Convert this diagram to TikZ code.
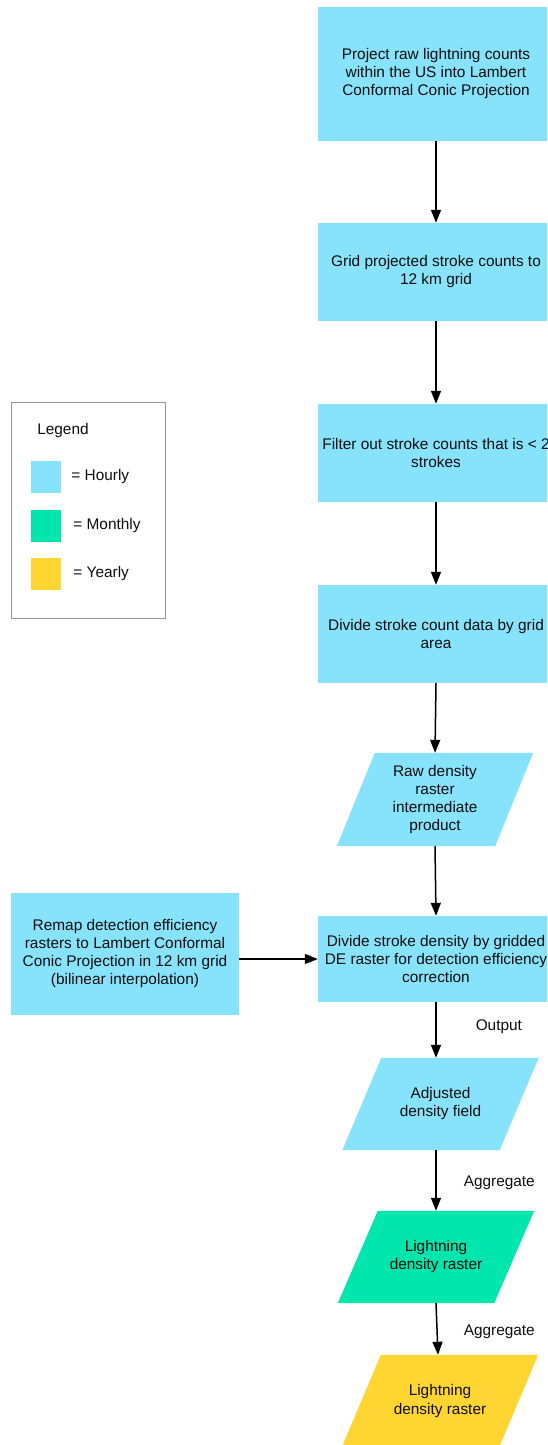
\documentclass[tikz,border=0pt]{standalone}
\usepackage{fontspec}
\setmainfont{Liberation Sans}
\usetikzlibrary{arrows.meta,backgrounds,calc}
\definecolor{cblue}{RGB}{135,227,252}
\definecolor{cgreen}{RGB}{0,230,173}
\definecolor{cyellow}{RGB}{255,213,50}
\definecolor{cgray}{RGB}{150,150,150}
\tikzset{
  txt/.style={font=\fontsize{15.4}{18}\selectfont, align=center, text=black!95},
  box/.style={txt, fill=cblue, inner sep=0pt, minimum width=236pt},
  para/.style={txt, inner sep=0pt, minimum width=196pt, minimum height=92pt},
  flow/.style={line width=1.5pt, -{Triangle[length=13pt,width=10pt]}},
  lbl/.style={txt, anchor=west, inner sep=0pt},
  swatch/.style={inner sep=0pt, minimum width=30pt, minimum height=32pt}
}
\newcommand{\skewfill}[3]{% node, colour, skew
  \fill[#2] ($(#1.north west)+(#3,0)$) -- (#1.north east) -- ($(#1.south east)-(#3,0)$) -- (#1.south west) -- cycle;}
\begin{document}
\begin{tikzpicture}[x=1pt,y=-1pt]
\useasboundingbox (0,0) rectangle (547,1445);
\clip (0,0) rectangle (547,1445);
% main column
\node[box, minimum height=134pt] (b1) at (436,74) {Project raw lightning counts\\within the US into Lambert\\Conformal Conic Projection};
\node[box, minimum height=98pt] (b2) at (436,272) {Grid projected stroke counts to\\12 km grid};
\node[box, minimum height=98pt] (b3) at (436,453) {Filter out stroke counts that is < 2\\strokes};
\node[box, minimum height=98pt] (b4) at (436,634) {Divide stroke count data by grid\\area};
\node[para, minimum height=93pt] (p1) at (435,799.5) {Raw density\\raster\\intermediate\\product};
\node[box, minimum height=86pt] (b5) at (436,959) {Divide stroke density by gridded\\DE raster for detection efficiency\\correction};
\node[box, minimum width=228pt, minimum height=122pt] (lb) at (125,954) {Remap detection efficiency\\rasters to Lambert Conformal\\Conic Projection in 12 km grid\\(bilinear interpolation)};
\node[para] (p2) at (440.5,1104) {Adjusted\\density field};
\node[para] (p3) at (436,1257) {Lightning\\density raster};
\node[para] (p4) at (440,1401) {Lightning\\density raster};
\begin{scope}[on background layer]
\skewfill{p1}{cblue}{38}
\skewfill{p2}{cblue}{39}
\skewfill{p3}{cgreen}{40}
\skewfill{p4}{cyellow}{39}
\end{scope}
% connectors
\draw[flow] (b1) -- (b2);
\draw[flow] (b2) -- (b3);
\draw[flow] (b3) -- (b4);
\draw[flow] (b4.south) -- (p1.north);
\draw[flow] (p1.south) -- (b5.north);
\draw[flow] (lb.east |- b5.west) -- (b5.west);
\draw[flow] (b5.south) -- node[lbl, xshift=39pt, yshift=3pt] {Output} (b5.south |- p2.north);
\draw[flow] (p2.south -| p3.north) -- node[lbl, xshift=27pt, yshift=-2.5pt] {Aggregate} (p3.north);
\draw[flow] (p3.south) -- node[lbl, xshift=26pt, yshift=-3pt] {Aggregate} ($(p4.north)+(-2,0)$);
% legend
\node[draw=cgray, line width=1pt, inner sep=0pt, minimum width=154pt, minimum height=216pt] (leg) at (88.5,510) {};
\node[txt] (legt) at (63,431) {Legend};
\node[swatch, fill=cblue] (s1) at (46,477) {};
\node[swatch, fill=cgreen] (s2) at (46,526) {};
\node[swatch, fill=cyellow] (s3) at (46,574) {};
\node[lbl, xshift=10pt] (t1) at (s1.east) {= Hourly};
\node[lbl, xshift=12pt] (t2) at (s2.east) {= Monthly};
\node[lbl, xshift=12pt] (t3) at (s3.east) {= Yearly};
\end{tikzpicture}
\end{document}
